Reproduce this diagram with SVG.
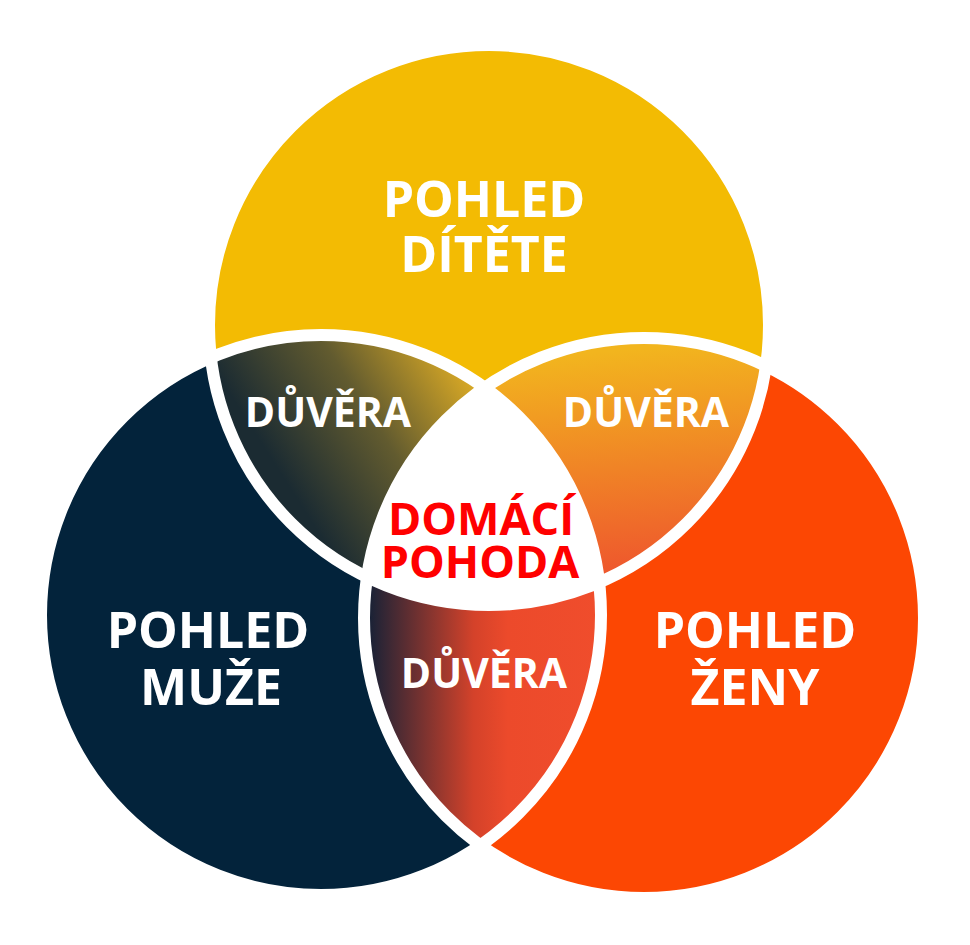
<svg xmlns="http://www.w3.org/2000/svg" width="970" height="945" viewBox="0 0 970 945">
  <style>
    .lbl { font-family: "Open Sans", "Noto Sans", "Liberation Sans", sans-serif; font-weight: 700; text-anchor: middle; fill: #ffffff; }
    .big { font-size: 50px; }
    .mid { font-size: 41px; }
    .ctr { font-size: 45px; fill: #ff0000; }
    .ring { fill: none; stroke: #ffffff; stroke-width: 12; }
  </style>
  <defs>
    <clipPath id="clipY"><circle cx="489" cy="325" r="280"/></clipPath>
    <clipPath id="clipN"><circle cx="321" cy="615" r="280"/></clipPath>
    <linearGradient id="gYN" gradientUnits="userSpaceOnUse" x1="285" y1="480" x2="465" y2="365">
      <stop offset="0" stop-color="#1b2b32"/>
      <stop offset="0.5" stop-color="#625b2f"/>
      <stop offset="1" stop-color="#dcab25"/>
    </linearGradient>
    <linearGradient id="gYO" gradientUnits="userSpaceOnUse" x1="620" y1="350" x2="640" y2="585">
      <stop offset="0" stop-color="#f2b51e"/>
      <stop offset="1" stop-color="#ee512e"/>
    </linearGradient>
    <linearGradient id="gNO" gradientUnits="userSpaceOnUse" x1="370" y1="0" x2="600" y2="0">
      <stop offset="0" stop-color="#1a2236"/>
      <stop offset="0.45" stop-color="#d4422a"/>
      <stop offset="0.6" stop-color="#ec4a2b"/>
      <stop offset="1" stop-color="#f04d2c"/>
    </linearGradient>
  </defs>

  <g id="circle-ditete">
    <circle cx="489" cy="325" r="280" fill="#f3bb03"/>
  </g>
  <g id="circle-muze">
    <circle cx="321" cy="615" r="280" fill="#03233b"/>
  </g>
  <g id="circle-zeny">
    <circle cx="644" cy="618" r="280" fill="#fc4703"/>
  </g>

  <g id="lens-ditete-muze" clip-path="url(#clipY)">
    <circle cx="321" cy="615" r="280" fill="url(#gYN)"/>
  </g>
  <g id="lens-ditete-zeny" clip-path="url(#clipY)">
    <circle cx="644" cy="618" r="280" fill="url(#gYO)"/>
  </g>
  <g id="lens-muze-zeny" clip-path="url(#clipN)">
    <circle cx="644" cy="618" r="280" fill="url(#gNO)"/>
  </g>
  <g id="center-domaci-pohoda" clip-path="url(#clipY)">
    <g clip-path="url(#clipN)">
      <circle cx="644" cy="618" r="280" fill="#ffffff"/>
    </g>
  </g>

  <g id="connectors">
    <circle class="ring" cx="489" cy="325" r="280"/>
    <circle class="ring" cx="321" cy="615" r="280"/>
    <circle class="ring" cx="644" cy="618" r="280"/>
  </g>

  <g id="label-ditete">
    <text class="lbl big" x="484" y="217">POHLED</text>
    <text class="lbl big" x="484" y="272">DÍTĚTE</text>
  </g>
  <g id="label-muze">
    <text class="lbl big" x="208" y="648">POHLED</text>
    <text class="lbl big" x="211" y="705">MUŽE</text>
  </g>
  <g id="label-zeny">
    <text class="lbl big" x="755" y="648">POHLED</text>
    <text class="lbl big" x="755" y="705">ŽENY</text>
  </g>
  <g id="label-duvera-1">
    <text class="lbl mid" x="328" y="427">DŮVĚRA</text>
  </g>
  <g id="label-duvera-2">
    <text class="lbl mid" x="646" y="427">DŮVĚRA</text>
  </g>
  <g id="label-duvera-3">
    <text class="lbl mid" x="484" y="688">DŮVĚRA</text>
  </g>
  <g id="label-domaci">
    <text class="lbl ctr" x="481" y="535">DOMÁCÍ</text>
    <text class="lbl ctr" x="480" y="578">POHODA</text>
  </g>
</svg>
